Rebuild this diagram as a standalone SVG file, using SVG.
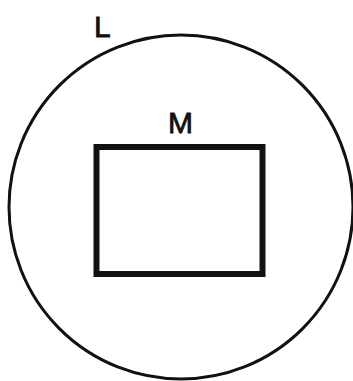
<svg xmlns="http://www.w3.org/2000/svg" width="353" height="381" viewBox="0 0 353 381">
<style>
.lbl{font-family:"Liberation Sans",Arial,sans-serif;font-size:30px;fill:#111;stroke:#111;stroke-width:0.8px;}
.shape{fill:none;stroke:#111;}
</style>
<rect width="353" height="381" fill="#fff"/>
<g id="L">
<circle class="shape" cx="181" cy="207" r="172" stroke-width="3"/>
<text class="lbl" x="94" y="37">L</text>
</g>
<g id="M">
<rect class="shape" x="96.5" y="147" width="166" height="127" stroke-width="6"/>
<text class="lbl" x="180.5" y="133" text-anchor="middle">M</text>
</g>
<g id="connectors"></g>
</svg>
